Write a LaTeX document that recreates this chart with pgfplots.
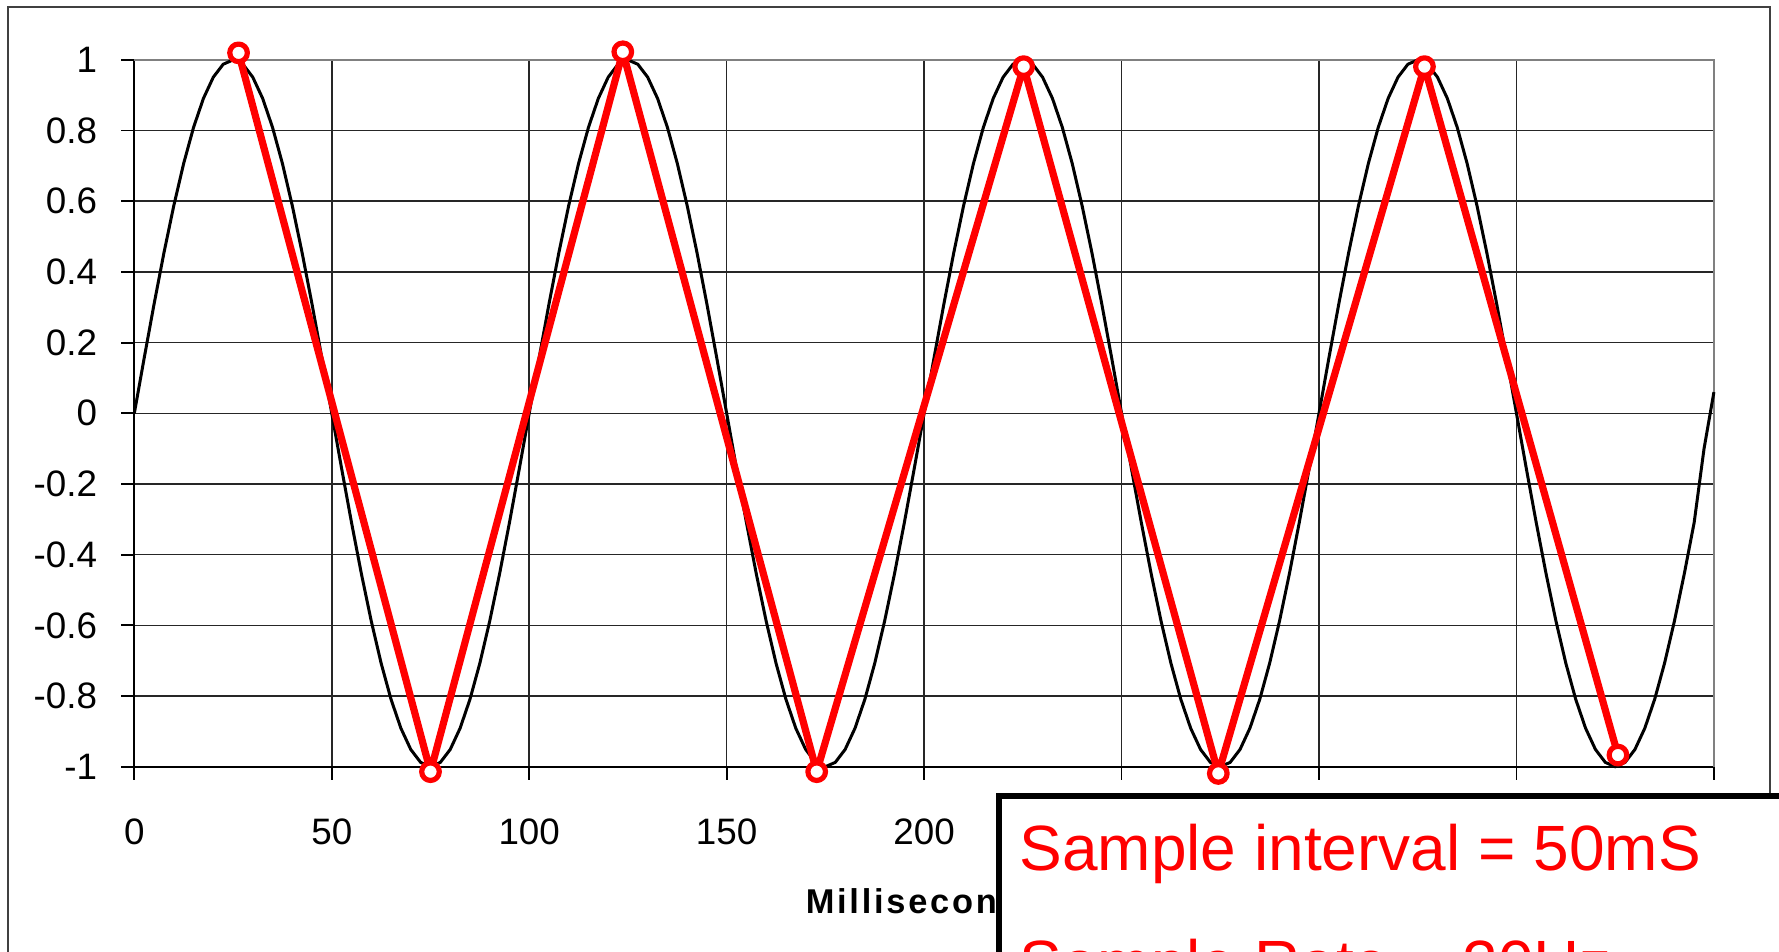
\documentclass[border=0pt]{standalone}
\usepackage{fontspec}
\setmainfont{Liberation Sans}
\usepackage{pgfplots}
\pgfplotsset{compat=1.18}

% black trace, sampled every 2.5 ms
\pgfplotstableread{
x y
0 0
2.5 0.1564
5 0.3090
7.5 0.4540
10 0.5878
12.5 0.7071
15 0.8090
17.5 0.8910
20 0.9511
22.5 0.9877
25 1
27.5 0.9877
30 0.9511
32.5 0.8910
35 0.8090
37.5 0.7071
40 0.5878
42.5 0.4540
45 0.3090
47.5 0.1564
50 0
52.5 -0.1564
55 -0.3090
57.5 -0.4540
60 -0.5878
62.5 -0.7071
65 -0.8090
67.5 -0.8910
70 -0.9511
72.5 -0.9877
75 -1
77.5 -0.9877
80 -0.9511
82.5 -0.8910
85 -0.8090
87.5 -0.7071
90 -0.5878
92.5 -0.4540
95 -0.3090
97.5 -0.1564
100 0
102.5 0.1564
105 0.3090
107.5 0.4540
110 0.5878
112.5 0.7071
115 0.8090
117.5 0.8910
120 0.9511
122.5 0.9877
125 1
127.5 0.9877
130 0.9511
132.5 0.8910
135 0.8090
137.5 0.7071
140 0.5878
142.5 0.4540
145 0.3090
147.5 0.1564
150 0
152.5 -0.1564
155 -0.3090
157.5 -0.4540
160 -0.5878
162.5 -0.7071
165 -0.8090
167.5 -0.8910
170 -0.9511
172.5 -0.9877
175 -1
177.5 -0.9877
180 -0.9511
182.5 -0.8910
185 -0.8090
187.5 -0.7071
190 -0.5878
192.5 -0.4540
195 -0.3090
197.5 -0.1564
200 0
202.5 0.1564
205 0.3090
207.5 0.4540
210 0.5878
212.5 0.7071
215 0.8090
217.5 0.8910
220 0.9511
222.5 0.9877
225 1
227.5 0.9877
230 0.9511
232.5 0.8910
235 0.8090
237.5 0.7071
240 0.5878
242.5 0.4540
245 0.3090
247.5 0.1564
250 0
252.5 -0.1564
255 -0.3090
257.5 -0.4540
260 -0.5878
262.5 -0.7071
265 -0.8090
267.5 -0.8910
270 -0.9511
272.5 -0.9877
275 -1
277.5 -0.9877
280 -0.9511
282.5 -0.8910
285 -0.8090
287.5 -0.7071
290 -0.5878
292.5 -0.4540
295 -0.3090
297.5 -0.1564
300 0
302.5 0.1564
305 0.3090
307.5 0.4540
310 0.5878
312.5 0.7071
315 0.8090
317.5 0.8910
320 0.9511
322.5 0.9877
325 1
327.5 0.9877
330 0.9511
332.5 0.8910
335 0.8090
337.5 0.7071
340 0.5878
342.5 0.4540
345 0.3090
347.5 0.1564
350 0
352.5 -0.1564
355 -0.3090
357.5 -0.4540
360 -0.5878
362.5 -0.7071
365 -0.8090
367.5 -0.8910
370 -0.9511
372.5 -0.9877
375 -1
377.5 -0.9877
380 -0.9511
382.5 -0.8910
385 -0.8090
387.5 -0.7071
390 -0.5878
392.5 -0.4540
395 -0.3090
397.5 -0.1000
400 0.0600
}\wavedata

% red samples
\pgfplotstableread{
x y
26.4 1.020
75.0 -1.014
123.7 1.023
172.8 -1.014
225.2 0.981
274.5 -1.019
326.7 0.981
375.7 -0.967
}\sampledata

\begin{document}
\begin{tikzpicture}[x=1pt,y=1pt]
\path[use as bounding box] (0,0) rectangle (444.75,-238);
\clip (0,0) rectangle (444.75,-238);
\draw[black!75, line width=0.5pt] (2.1,-1.7) rectangle (442.4,-300);
\begin{axis}[
  at={(33.58pt,-191.68pt)}, anchor=south west,
  scale only axis, width=394.9pt, height=176.7pt,
  xmin=0, xmax=400, ymin=-1, ymax=1,
  clip=false,
  axis x line*=bottom, axis y line*=left,
  axis line style={black, line width=0.45pt, -},
  xtick={0,50,...,400},
  % labels from 250 on sit under the text box
  xticklabels={0,50,100,150,200,,,,},
  ytick={-1,-0.8,-0.6,-0.4,-0.2,0,0.2,0.4,0.6,0.8,1},
  yticklabels={-1,-0.8,-0.6,-0.4,-0.2,0,0.2,0.4,0.6,0.8,1},
  tick align=outside, major tick length=3.3pt,
  tick style={black, line width=0.45pt},
  grid=major, major grid style={black!85, line width=0.4pt},
  ticklabel style={font=\fontsize{9.2}{10}\selectfont},
  yticklabel style={xshift=-2.5pt},
  xticklabel style={yshift=-6.3pt},
  xlabel={Milliseconds},
  xlabel style={at={(axis description cs:0.5,0)}, anchor=base, yshift=-36.6pt,
    font=\fontsize{8.6}{10}\selectfont\bfseries\addfontfeature{LetterSpace=8}},
]
\draw[gray, line width=0.6pt] (axis cs:0,1) -- (axis cs:400,1) -- (axis cs:400,-1);
\addplot[black, line width=0.75pt] table {\wavedata};
\addplot[red, line width=1.8pt, line join=round,
  mark=*, mark size=2.2pt,
  mark options={draw=red, fill=white, line width=1.3pt}] table {\sampledata};
\end{axis}
\draw[black, line width=1.4pt, fill=white] (249.75,-199) rectangle (470,-280);
\node[anchor=base west, inner sep=0, text=red, font=\fontsize{16}{19}\selectfont]
  at (254.7,-217.5) {Sample interval = 50mS};
\node[anchor=base west, inner sep=0, text=red, font=\fontsize{16}{19}\selectfont]
  at (254.7,-246.25) {Sample Rate = 20Hz};
\end{tikzpicture}
\end{document}
